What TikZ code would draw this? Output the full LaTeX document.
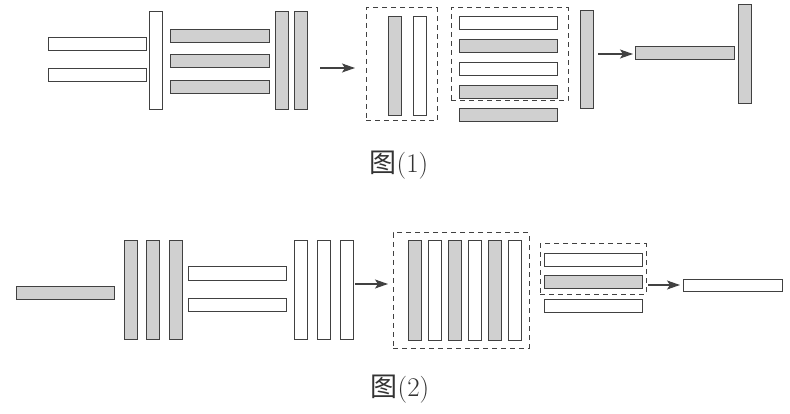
\documentclass[tikz,border=0pt]{standalone}
\usepackage{fontspec}
\newfontfamily\cjk{Noto Sans CJK SC}
\usetikzlibrary{arrows.meta, positioning}
\definecolor{bardraw}{RGB}{65,65,65}
\definecolor{barfill}{RGB}{208,208,208}
\tikzset{
  hbar/.style={rectangle, draw=bardraw, minimum width=98pt, minimum height=13pt,
    inner sep=0pt, line width=1pt},
  vbar/.style={rectangle, draw=bardraw, minimum width=13pt, minimum height=98pt,
    inner sep=0pt, line width=1pt},
  grey/.style={fill=barfill},
  blank/.style={fill=white},
  dashbox/.style={rectangle, draw=bardraw, dash pattern=on 5pt off 4pt,
    line width=1pt, inner sep=0pt},
  arrow/.style={-{Stealth[length=13pt, width=9pt, inset=3pt]}, line width=1.1pt, color=bardraw},
  caption/.style={font=\fontsize{27}{30}\selectfont, text=black!80}
}

\begin{document}
\begin{tikzpicture}[x=1pt, y=-1pt]
  \useasboundingbox (0,0) rectangle (790,414);

  % figure (1)
  \node (w1) [hbar, blank] at (97,44) {};
  \node (w2) [hbar, blank, below=17pt of w1] {};
  \node (t1) [vbar, blank] at (155.5,61) {};
  \node (g1) [hbar, grey, minimum width=99pt] at (219.5,36) {};
  \node (g2) [hbar, grey, minimum width=99pt, below=11.5pt of g1] {};
  \node (g3) [hbar, grey, minimum width=99pt, below=11.5pt of g2] {};
  \node (v1) [vbar, grey] at (281.5,61) {};
  \node (v2) [vbar, grey, right=5pt of v1] {};

  \node (box1) [dashbox, minimum width=71pt, minimum height=113pt] at (401.5,64.5) {};
  \node (p1) [vbar, grey, minimum height=99pt] at (394.5,66.5) {};
  \node (p2) [vbar, blank, minimum height=99pt, right=11pt of p1] {};

  \node (box2) [dashbox, minimum width=117pt, minimum height=93pt] at (509.5,54.5) {};
  \node (h1) [hbar, blank] at (508,23.5) {};
  \node (h2) [hbar, grey, below=9pt of h1] {};
  \node (h3) [hbar, blank, below=9pt of h2] {};
  \node (h4) [hbar, grey, below=9pt of h3] {};
  \node (h5) [hbar, grey] at (508,115.5) {};

  \node (v3) [vbar, grey] at (586.5,60) {};
  \node (g4) [hbar, grey, minimum width=99pt] at (684.5,53.5) {};
  \node (v4) [vbar, grey, minimum height=99pt] at (744.5,54.5) {};

  \coordinate (a1s) at (320,68);
  \coordinate (a1e) at (355,68);
  \coordinate (a2s) at (598,54);
  \coordinate (a2e) at (633,54);
  \draw [arrow] (a1s) -- (a1e);
  \draw [arrow] (a2s) -- (a2e);

  \node (cap1) [caption] at (399,165) {{\cjk 图}(1)};

  % figure (2)
  \node (gl) [hbar, grey] at (65,292.5) {};
  \node (q1) [vbar, grey] at (130.5,290) {};
  \node (q2) [vbar, grey, right=8.5pt of q1] {};
  \node (q3) [vbar, grey, right=8.5pt of q2] {};
  \node (e1) [hbar, blank] at (237,273.5) {};
  \node (e2) [hbar, blank, below=17pt of e1] {};
  \node (r1) [vbar, blank] at (300.5,290) {};
  \node (r2) [vbar, blank, right=9pt of r1] {};
  \node (r3) [vbar, blank, right=9pt of r2] {};

  \node (box3) [dashbox, minimum width=136pt, minimum height=115pt] at (461,290.5) {};
  \node (s1) [vbar, grey, minimum height=99pt] at (414.5,290.5) {};
  \node (s2) [vbar, blank, minimum height=99pt, right=6pt of s1] {};
  \node (s3) [vbar, grey, minimum height=99pt, right=6pt of s2] {};
  \node (s4) [vbar, blank, minimum height=99pt, right=6pt of s3] {};
  \node (s5) [vbar, grey, minimum height=99pt, right=6pt of s4] {};
  \node (s6) [vbar, blank, minimum height=99pt, right=6pt of s5] {};

  \node (box4) [dashbox, minimum width=106pt, minimum height=50pt] at (593,269) {};
  \node (k1) [hbar, blank] at (593,260.5) {};
  \node (k2) [hbar, grey, below=7pt of k1] {};
  \node (k3) [hbar, blank] at (593,305.5) {};
  \node (fin) [hbar, blank, minimum width=99pt, minimum height=12pt] at (732.5,285) {};

  \coordinate (a3s) at (355,284);
  \coordinate (a3e) at (388,284);
  \coordinate (a4s) at (648,285);
  \coordinate (a4e) at (680,285);
  \draw [arrow] (a3s) -- (a3e);
  \draw [arrow] (a4s) -- (a4e);

  \node (cap2) [caption] at (400,389) {{\cjk 图}(2)};
\end{tikzpicture}
\end{document}
